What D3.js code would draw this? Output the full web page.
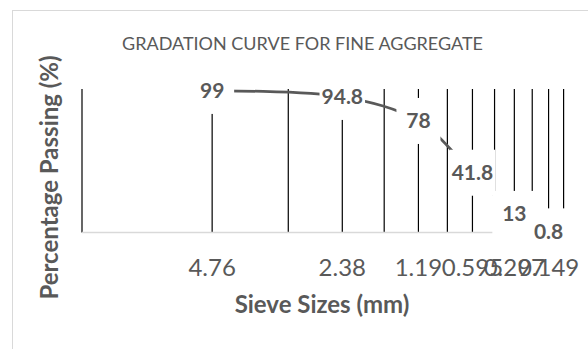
<!DOCTYPE html>
<html>
<head>
<meta charset="utf-8">
<script src="https://cdn.jsdelivr.net/npm/d3@7"></script>
<style>
  html, body { margin: 0; padding: 0; background: #fff; }
  svg { display: block; }
  text { font-family: Lato, "Open Sans", sans-serif; }
</style>
</head>
<body>
<svg id="chart" width="588" height="349"></svg>
<script>
// Sieve analysis of fine aggregate
const sieveSizes = ["4.76", "2.38", "1.19", "0.595", "0.297", "0.149"];
const sievePositions = [2, 4, 6, 8, 10, 12];          // positions on the log axis
const percentPassing = [99, 94.8, 78, 41.8, 13, 0.8];
const gridPositions = d3.range(1, 14);                 // vertical gridlines 1..13

const chartTitle = "GRADATION CURVE FOR FINE AGGREGATE";
const xTitle = "Sieve Sizes (mm)";
const yTitle = "Percentage Passing (%)";

const points = sievePositions.map((p, i) => ({ p, v: percentPassing[i], label: sieveSizes[i] }));

const svg = d3.select("#chart");
const grey = "#595959";

const plotTop = 89;
const x = d3.scaleLog().domain([1, 13]).range([82, 563.6]);
const y = d3.scaleLinear().domain([0, 100]).range([232.5, 89.5]);

// chart frame
svg.append("rect")
  .attr("x", 12.5).attr("y", 10.5)
  .attr("width", 620).attr("height", 400)
  .attr("fill", "#fff").attr("stroke", "#d9d9d9").attr("stroke-width", 1);

// vertical gridlines
svg.append("g").selectAll("line").data(gridPositions).join("line")
  .attr("x1", d => x(d)).attr("x2", d => x(d))
  .attr("y1", plotTop).attr("y2", y(0))
  .attr("stroke", "#000").attr("stroke-width", 1.2);

// horizontal axis line
svg.append("line")
  .attr("x1", x(1)).attr("x2", x(13))
  .attr("y1", y(0)).attr("y2", y(0))
  .attr("stroke", "#d9d9d9").attr("stroke-width", 1.5);

// gradation curve
const line = d3.line()
  .x(d => x(d.p)).y(d => y(d.v))
  .curve(d3.curveCatmullRom);
svg.append("path").datum(points)
  .attr("d", line)
  .attr("fill", "none").attr("stroke", grey)
  .attr("stroke-width", 2.75).attr("stroke-linecap", "butt");

// data labels on white boxes
const labels = svg.append("g");
points.forEach(d => {
  const cx = x(d.p), cy = y(d.v);
  const box = labels.append("rect").attr("fill", "#fff");
  const t = labels.append("text")
    .attr("x", cx).attr("y", cy + 7.5)
    .attr("text-anchor", "middle")
    .attr("font-size", 21).attr("font-weight", 700)
    .attr("fill", grey)
    .text(d.v);
  const w = Math.max(t.node().getComputedTextLength() + 4, 44);
  box.attr("x", cx - w / 2).attr("y", cy - 23)
    .attr("width", w).attr("height", 46);
});

// tick labels
svg.append("g").selectAll("text").data(points).join("text")
  .attr("x", d => x(d.p)).attr("y", 276)
  .attr("text-anchor", "middle")
  .attr("font-size", 24)
  .attr("fill", grey)
  .text(d => d.label);

// titles
svg.append("text")
  .attr("x", 302.5).attr("y", 50)
  .attr("text-anchor", "middle")
  .attr("font-size", 18)
  .attr("fill", grey)
  .text(chartTitle);

svg.append("text")
  .attr("x", 322).attr("y", 313)
  .attr("text-anchor", "middle")
  .attr("font-size", 24).attr("font-weight", 700)
  .attr("fill", grey)
  .text(xTitle);

svg.append("text")
  .attr("transform", "translate(58,177.5) rotate(-90)")
  .attr("text-anchor", "middle")
  .attr("font-size", 24).attr("font-weight", 700)
  .attr("fill", grey)
  .text(yTitle);
</script>
</body>
</html>
